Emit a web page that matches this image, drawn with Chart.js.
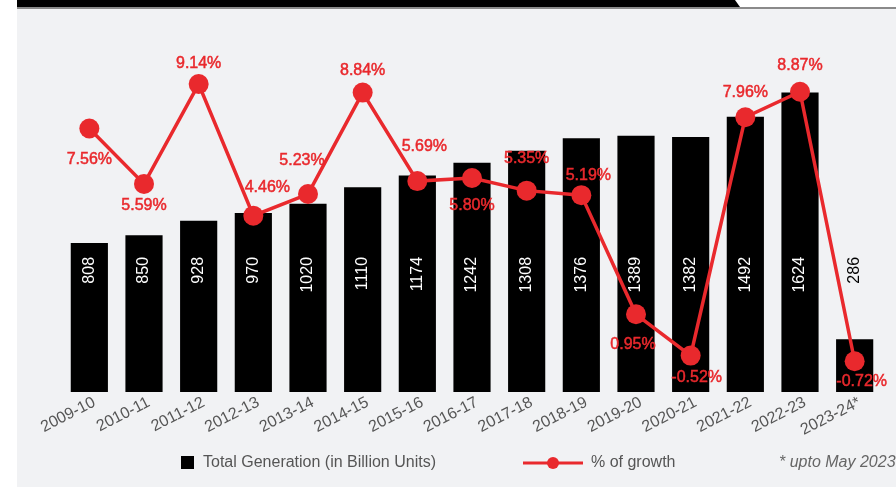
<!DOCTYPE html>
<html lang="en">
<head>
  <meta charset="UTF-8">
  <title>Total Generation</title>
  <script src="https://cdn.jsdelivr.net/npm/chart.js@4.4.0/dist/chart.umd.min.js"></script>
  <style>
    body { margin: 0; width: 896px; height: 487px; background: #fff; position: relative; overflow: hidden; }
    .panel { position: absolute; left: 17px; top: 0; width: 879px; height: 487px; background: #f1f2f4; }
    .band { position: absolute; left: 17px; top: 0; width: 879px; height: 7px; background: #fff; }
    .band-dark { position: absolute; left: 17px; top: 0; width: 723px; height: 7px; background: #000;
                 clip-path: polygon(0 0, 718px 0, 723px 7px, 0 7px); }
    .rule { position: absolute; left: 17px; top: 7px; width: 879px; height: 2px; background: #8a8a8a; }
    #chart { position: absolute; left: 17px; top: 10px; }
  </style>
</head>
<body>
  <div class="panel"></div>
  <div class="band"></div>
  <div class="band-dark"></div>
  <div class="rule"></div>
  <canvas id="chart" width="879" height="477"></canvas>
  <script>
    const years = ['2009-10', '2010-11', '2011-12', '2012-13', '2013-14', '2014-15', '2015-16', '2016-17',
                   '2017-18', '2018-19', '2019-20', '2020-21', '2021-22', '2022-23', '2023-24*'];
    const totalGeneration = [808, 850, 928, 970, 1020, 1110, 1174, 1242, 1308, 1376, 1389, 1382, 1492, 1624, 286];
    const growthPct = [7.56, 5.59, 9.14, 4.46, 5.23, 8.84, 5.69, 5.80, 5.35, 5.19, 0.95, -0.52, 7.96, 8.87, -0.72];
    const footnote = '* upto May 2023';

    // where each % label sits relative to its point (dx, dy)
    const growthLabelOffsets = [
      [0, 31], [0, 22], [0, -21], [14, -28], [-6, -33], [0, -22], [7, -34], [0, 28],
      [0, -32], [7, -20], [-3, 30], [6, 22], [0, -25], [0, -26], [7, 20]
    ];

    const RED = '#e9292d';
    const FONT = '"Liberation Sans", Arial, sans-serif';
    const BAR_LABEL_AT = 732; // value on the bar axis where the rotated labels end

    const barLabels = {
      id: 'barLabels',
      afterDatasetDraw(chart, args) {
        if (args.index !== 1) return;
        const ctx = chart.ctx;
        const y = chart.scales.y.getPixelForValue(BAR_LABEL_AT);
        ctx.save();
        ctx.font = '16px ' + FONT;
        ctx.textAlign = 'right';
        ctx.textBaseline = 'middle';
        args.meta.data.forEach((bar, i) => {
          ctx.save();
          ctx.translate(bar.x, y);
          ctx.rotate(-Math.PI / 2);
          ctx.fillStyle = bar.y < y ? '#fff' : '#000';
          ctx.fillText(String(totalGeneration[i]), 0, 0);
          ctx.restore();
        });
        ctx.restore();
      }
    };

    const growthLabels = {
      id: 'growthLabels',
      afterDatasetsDraw(chart) {
        const ctx = chart.ctx;
        const meta = chart.getDatasetMeta(0);
        ctx.save();
        ctx.font = '16px ' + FONT;
        ctx.fillStyle = RED;
        ctx.strokeStyle = RED;
        ctx.lineWidth = 0.5;
        ctx.textAlign = 'center';
        ctx.textBaseline = 'middle';
        meta.data.forEach((pt, i) => {
          const [dx, dy] = growthLabelOffsets[i];
          const text = growthPct[i].toFixed(2) + '%';
          ctx.fillText(text, pt.x + dx, pt.y + dy);
          ctx.strokeText(text, pt.x + dx, pt.y + dy);
        });
        ctx.restore();
      }
    };

    const bottomLegend = {
      id: 'bottomLegend',
      afterDraw(chart) {
        const ctx = chart.ctx;
        const y = 453;
        ctx.save();
        ctx.font = '16px ' + FONT;
        ctx.textBaseline = 'middle';
        ctx.fillStyle = '#000';
        ctx.fillRect(164, y - 7, 13, 13);
        ctx.fillStyle = '#555';
        ctx.fillText(chart.data.datasets[1].label, 186, y);

        ctx.strokeStyle = RED;
        ctx.lineWidth = 3;
        ctx.beginPath();
        ctx.moveTo(506, y);
        ctx.lineTo(566, y);
        ctx.stroke();
        ctx.fillStyle = RED;
        ctx.beginPath();
        ctx.arc(536, y, 6, 0, Math.PI * 2);
        ctx.fill();
        ctx.fillStyle = '#555';
        ctx.fillText(chart.data.datasets[0].label, 574, y);

        ctx.font = 'italic 16px ' + FONT;
        ctx.fillStyle = '#666';
        ctx.fillText(footnote, 762, y);
        ctx.restore();
      }
    };

    const ctx = document.getElementById('chart').getContext('2d');
    const myChart = new Chart(ctx, {
      data: {
        labels: years,
        datasets: [{
          type: 'line',
          label: '% of growth',
          data: growthPct,
          yAxisID: 'y2',
          order: 0,
          borderColor: RED,
          borderWidth: 3.5,
          tension: 0,
          pointRadius: 10,
          pointHoverRadius: 10,
          pointBackgroundColor: RED,
          pointBorderWidth: 0
        }, {
          type: 'bar',
          label: 'Total Generation (in Billion Units)',
          data: totalGeneration,
          yAxisID: 'y',
          order: 1,
          backgroundColor: '#000',
          barPercentage: 0.68,
          categoryPercentage: 1
        }]
      },
      options: {
        responsive: false,
        animation: false,
        layout: { padding: { left: 45, right: 14, top: 30, bottom: 35 } },
        plugins: { legend: { display: false }, tooltip: { enabled: false } },
        scales: {
          x: {
            offset: true,
            grid: { display: false },
            border: { display: false },
            ticks: {
              color: '#555', font: { family: FONT, size: 16 },
              minRotation: 27, maxRotation: 27, padding: -7, labelOffset: 5
            },
            afterFit(scale) { scale.height = 60; }
          },
          y: { display: false, min: 0, max: 1908 },
          y2: { display: false, min: -1.815, max: 10.71 }
        }
      },
      plugins: [barLabels, growthLabels, bottomLegend]
    });
  </script>
</body>
</html>
